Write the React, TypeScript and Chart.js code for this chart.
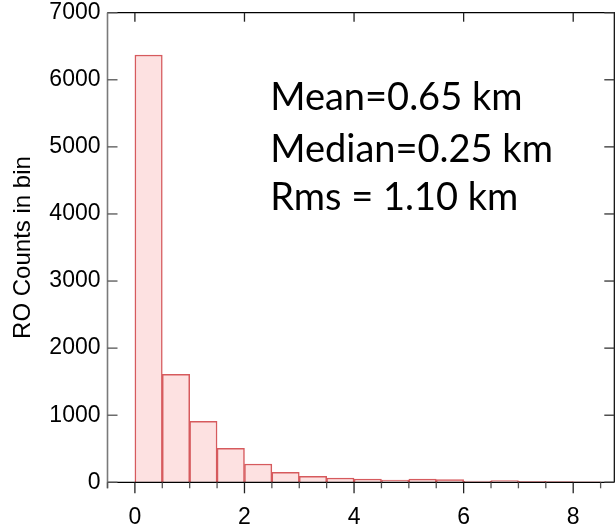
import React, { useEffect, useRef } from "react";
import { Chart, registerables } from "chart.js";

Chart.register(...registerables);

// Histogram bins (left edge, km) and RO counts per bin
const binLefts = [0, 0.5, 1.0, 1.5, 2.0, 2.5, 3.0, 3.5, 4.0, 4.5, 5.0, 5.5, 6.0, 6.5, 7.0, 7.5, 8.0];
const binWidth = 0.5;
const counts = [6370, 1610, 908, 507, 273, 149, 90, 64, 49, 34, 47, 40, 19, 24, 14, 9, 8];

const xMajorTicks = [0, 2, 4, 6, 8];
const xMinorTicks = [-0.5, 0.5, 1, 1.5, 2.5, 3, 3.5, 4.5, 5, 5.5, 6.5, 7, 7.5, 8.5];
const yTicks = [0, 1000, 2000, 3000, 4000, 5000, 6000, 7000];

const statLines = ["Mean=0.65 km", "Median=0.25 km", "Rms = 1.10 km"];

const TICK_FONT = "'Liberation Sans', Arial, Helvetica, sans-serif";

const framePlugin = {
  id: "frame",
  afterDatasetsDraw(chart: any) {
    const { ctx, chartArea } = chart;
    const xs = chart.scales.x;
    const ys = chart.scales.y;
    const L = chartArea.left, R = chartArea.right, T = chartArea.top, B = chartArea.bottom;
    ctx.save();
    ctx.lineCap = "butt";
    ctx.strokeStyle = "#000";
    ctx.lineWidth = 1.2;
    ctx.beginPath();
    ctx.moveTo(L, T);
    ctx.lineTo(R, T);
    ctx.lineTo(R, B);
    ctx.stroke();
    ctx.beginPath();
    ctx.moveTo(L, B);
    ctx.lineTo(R, B);
    ctx.stroke();
    ctx.strokeStyle = "#7a7a7a";
    ctx.lineWidth = 1.6;
    ctx.beginPath();
    ctx.moveTo(L, T);
    ctx.lineTo(L, B + 6);
    ctx.stroke();
    ctx.lineWidth = 1.3;
    yTicks.forEach((v) => {
      const y = ys.getPixelForValue(v);
      ctx.strokeStyle = "#555";
      ctx.beginPath();
      ctx.moveTo(L, y);
      ctx.lineTo(L + 10, y);
      ctx.stroke();
      ctx.strokeStyle = "#333";
      ctx.beginPath();
      ctx.moveTo(R, y);
      ctx.lineTo(R - 10, y);
      ctx.stroke();
    });
    ctx.strokeStyle = "#222";
    ctx.lineWidth = 1.3;
    xMajorTicks.forEach((v) => {
      const x = xs.getPixelForValue(v);
      ctx.beginPath();
      ctx.moveTo(x, B);
      ctx.lineTo(x, B + 11);
      ctx.stroke();
      ctx.beginPath();
      ctx.moveTo(x, T);
      ctx.lineTo(x, T + 9);
      ctx.stroke();
    });
    ctx.strokeStyle = "#555";
    xMinorTicks.forEach((v) => {
      const x = xs.getPixelForValue(v);
      ctx.beginPath();
      ctx.moveTo(x, B);
      ctx.lineTo(x, B + 6);
      ctx.stroke();
    });
    ctx.fillStyle = "#000";
    ctx.font = "38px Lato, 'Open Sans', sans-serif";
    ctx.textAlign = "left";
    ctx.textBaseline = "alphabetic";
    const tx = xs.getPixelForValue(2.47);
    const baselines = [5557, 4770, 4064];
    statLines.forEach((s, i) => {
      ctx.fillText(s, tx, ys.getPixelForValue(baselines[i]));
    });
    ctx.restore();
  },
};

export default function App() {
  const ref = useRef<HTMLCanvasElement | null>(null);
  useEffect(() => {
    if (!ref.current) return;
    const chart = new Chart(ref.current, {
      type: "bar",
      data: {
        datasets: [
          {
            data: binLefts.map((x, i) => ({ x: x + binWidth / 2, y: counts[i] })),
            backgroundColor: "#fde1e1",
            borderColor: "#d65a5d",
            borderWidth: 1.5,
            barPercentage: 1,
            categoryPercentage: 1,
            grouped: false,
          } as any,
        ],
      },
      options: {
        animation: false,
        responsive: false,
        maintainAspectRatio: false,
        layout: { padding: { top: 12.7, right: 1.7, left: 0, bottom: 0 } },
        plugins: { legend: { display: false }, tooltip: { enabled: false } },
        scales: {
          x: {
            type: "linear",
            min: -0.5,
            max: 8.75,
            offset: false,
            grid: { display: false, drawTicks: false },
            border: { display: false },
            afterBuildTicks: (s: any) => {
              s.ticks = xMajorTicks.map((v) => ({ value: v }));
            },
            afterFit: (s: any) => {
              s.height = 48.7;
              s.paddingLeft = 0;
              s.paddingRight = 0;
            },
            ticks: {
              padding: 22,
              color: "#000",
              maxRotation: 0,
              font: { family: TICK_FONT, size: 23 },
              callback: (v: any) => String(v),
            },
          },
          y: {
            min: 0,
            max: 7000,
            grid: { display: false, drawTicks: false },
            border: { display: false },
            afterBuildTicks: (s: any) => {
              s.ticks = yTicks.map((v) => ({ value: v }));
            },
            afterFit: (s: any) => {
              s.width = 107.5;
              s.paddingTop = 0;
              s.paddingBottom = 0;
            },
            ticks: {
              padding: 7,
              color: "#000",
              font: { family: TICK_FONT, size: 23 },
              callback: (v: any) => String(v),
            },
            title: {
              display: true,
              text: "RO Counts in bin",
              color: "#000",
              font: { family: TICK_FONT, size: 24 },
              padding: { top: 9, bottom: 0 },
            },
          },
        },
      },
      plugins: [framePlugin],
    });
    return () => chart.destroy();
  }, []);
  return (
    <div style={{ position: "fixed", left: 0, top: 0, width: 616, height: 531, background: "#fff" }}>
      <canvas ref={ref} width={616} height={531} style={{ width: 616, height: 531, display: "block" }} />
    </div>
  );
}
